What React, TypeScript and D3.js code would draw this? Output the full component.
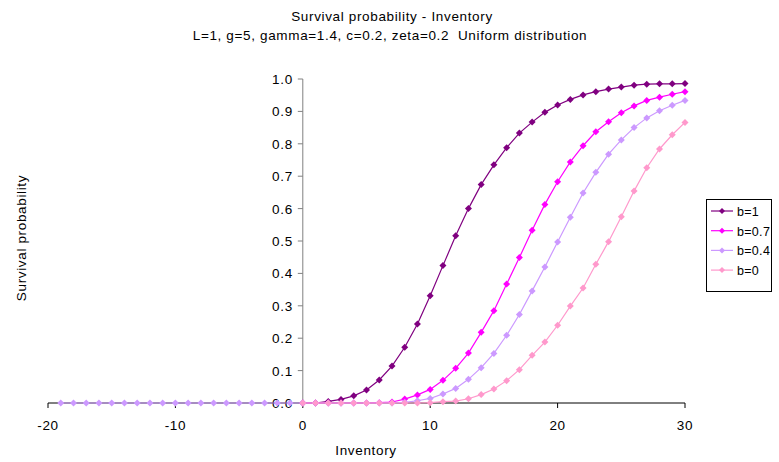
import React from "react";
import * as d3 from "d3";

const xs0: number[] = d3.range(0, 31);
const xsNeg: number[] = d3.range(-19, 31);
const negZeros: number[] = d3.range(-19, 0).map(() => 0);

const b1: number[] = [0, 0, 0.005, 0.011, 0.022, 0.04, 0.071, 0.114, 0.172, 0.244, 0.331, 0.424, 0.516, 0.6, 0.674, 0.735, 0.788, 0.833, 0.867, 0.897, 0.92, 0.937, 0.951, 0.961, 0.969, 0.975, 0.981, 0.984, 0.985, 0.985, 0.986];
const b07: number[] = [0, 0, 0, 0, 0, 0, 0.001, 0.003, 0.012, 0.025, 0.042, 0.07, 0.107, 0.154, 0.218, 0.285, 0.367, 0.449, 0.533, 0.613, 0.683, 0.744, 0.794, 0.837, 0.868, 0.896, 0.917, 0.934, 0.944, 0.953, 0.961];
const b04: number[] = [0, 0, 0, 0, 0, 0, 0, 0, 0.002, 0.007, 0.014, 0.028, 0.045, 0.073, 0.109, 0.153, 0.209, 0.273, 0.346, 0.42, 0.497, 0.573, 0.648, 0.712, 0.768, 0.812, 0.85, 0.88, 0.902, 0.919, 0.934];
const b0: number[] = [0, 0, 0, 0, 0, 0, 0, 0, 0, 0, 0.001, 0.004, 0.006, 0.013, 0.026, 0.043, 0.069, 0.103, 0.147, 0.188, 0.24, 0.299, 0.355, 0.428, 0.498, 0.575, 0.654, 0.726, 0.784, 0.828, 0.866];

const seriesNames: string[] = ["b=1", "b=0.7", "b=0.4", "b=0"];
const seriesColors: string[] = ["#800080", "#FF00FF", "#CC99FF", "#FF99CC"];
const xTicks: number[] = [-20, -10, 0, 10, 20, 30];
const yTicks: number[] = d3.range(0, 11).map((i) => i / 10);

const series = [
  { name: seriesNames[0], color: seriesColors[0], xs: xs0, ys: b1 },
  { name: seriesNames[1], color: seriesColors[1], xs: xs0, ys: b07 },
  { name: seriesNames[2], color: seriesColors[2], xs: xsNeg, ys: [...negZeros, ...b04] },
  { name: seriesNames[3], color: seriesColors[3], xs: xs0, ys: b0 },
];

const FONT = "Liberation Sans, Arial, sans-serif";
const LS = 0.65;

export default function App() {
  const W = 779, H = 462;
  const x = d3.scaleLinear().domain([-20, 30]).range([48, 685]);
  const y = d3.scaleLinear().domain([0, 1]).range([403, 79]);
  const line = d3.line<[number, number]>().x((d) => x(d[0])).y((d) => y(d[1]));
  const diamond = (cx: number, cy: number, r: number) =>
    `M${cx},${cy - r}L${cx + r},${cy}L${cx},${cy + r}L${cx - r},${cy}Z`;

  return (
    <svg width={W} height={H} style={{ position: "absolute", left: 0, top: 0, background: "#fff" }} fontFamily={FONT}>
      <rect width={W} height={H} fill="#fff" />
      <text x={392} y={21} textAnchor="middle" fontSize={13.5} letterSpacing={LS}>Survival probability - Inventory</text>
      <text x={390} y={40} textAnchor="middle" fontSize={13.5} letterSpacing={LS} style={{ whiteSpace: "pre" }}>{"L=1, g=5, gamma=1.4, c=0.2, zeta=0.2  Uniform distribution"}</text>

      {/* x axis */}
      <line x1={x(-20)} x2={x(30)} y1={y(0)} y2={y(0)} stroke="#000" strokeWidth={1} />
      {xTicks.map((t) => (
        <g key={t}>
          <line x1={x(t)} x2={x(t)} y1={y(0)} y2={y(0) + 5} stroke="#000" />
          <text x={x(t)} y={y(0) + 27} textAnchor="middle" fontSize={13.5} letterSpacing={LS}>{t}</text>
        </g>
      ))}
      {/* y axis */}
      <line x1={x(0)} x2={x(0)} y1={y(0)} y2={y(1)} stroke="#808080" strokeWidth={1} />
      {yTicks.map((t) => (
        <g key={t}>
          <line x1={x(0) - 5} x2={x(0)} y1={y(t)} y2={y(t)} stroke="#808080" />
          <text x={x(0) - 10} y={y(t) + 5} textAnchor="end" fontSize={13.5} letterSpacing={LS}>{t.toFixed(1)}</text>
        </g>
      ))}

      {series.map((s) => {
        const pts: [number, number][] = s.xs.map((xv, i) => [xv, s.ys[i]]);
        return (
          <g key={s.name}>
            <path d={line(pts) || ""} fill="none" stroke={s.color} strokeWidth={1.2} />
            {pts.map((p, i) => (
              <path key={i} d={diamond(x(p[0]), y(p[1]), 3.5)} fill={s.color} />
            ))}
          </g>
        );
      })}

      <text transform={`translate(26,238) rotate(-90)`} textAnchor="middle" fontSize={13.5} letterSpacing={LS}>Survival probability</text>
      <text x={366} y={455} textAnchor="middle" fontSize={13.5} letterSpacing={LS}>Inventory</text>

      {/* legend */}
      <rect x={706.5} y={199.5} width={65} height={92} fill="#fff" stroke="#000" />
      {series.map((s, i) => {
        const ly = 211 + i * 19.7;
        return (
          <g key={s.name}>
            <line x1={711} x2={733} y1={ly} y2={ly} stroke={s.color} strokeWidth={1.2} />
            <path d={diamond(722, ly, 3)} fill={s.color} />
            <text x={737} y={ly + 5} fontSize={12.5} letterSpacing={0.3}>{s.name}</text>
          </g>
        );
      })}
    </svg>
  );
}
